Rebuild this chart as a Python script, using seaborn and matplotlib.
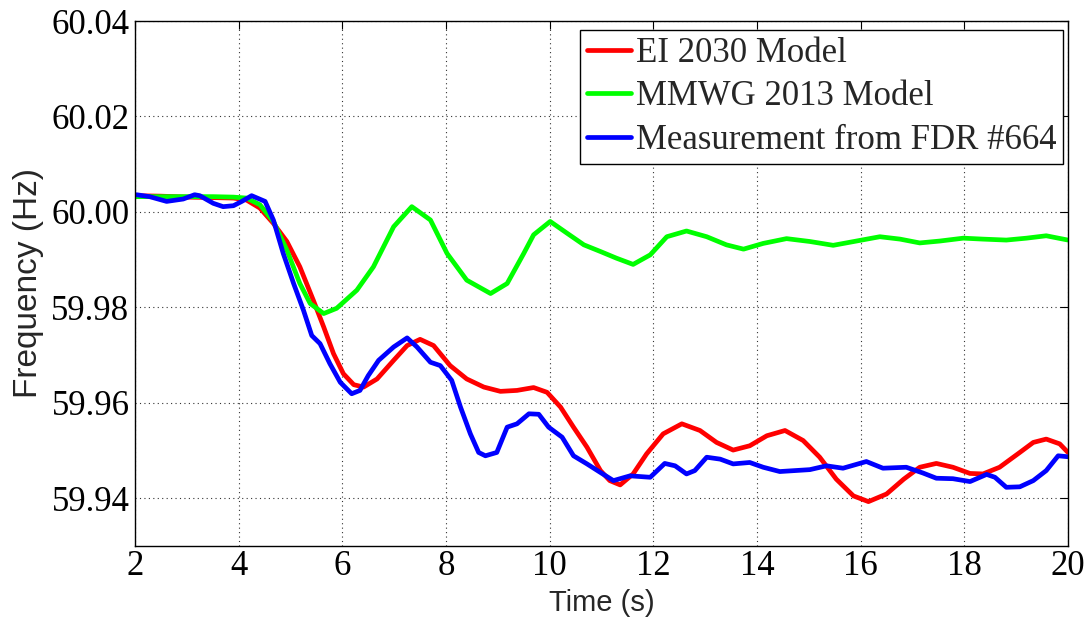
import numpy as np
import pandas as pd
import matplotlib
matplotlib.use("Agg")
import matplotlib.pyplot as plt
import seaborn as sns

# ---- data ----
ei_t = [2.0, 2.5, 3.0, 3.5, 3.9, 4.15, 4.41, 4.67, 4.93, 5.18, 5.44, 5.64, 5.83, 6.02, 6.22, 6.41,
        6.67, 6.99, 7.25, 7.5, 7.76, 8.08, 8.4, 8.73, 9.05, 9.37, 9.69, 9.95, 10.21, 10.46, 10.72,
        10.98, 11.16, 11.36, 11.61, 11.87, 12.19, 12.55, 12.9, 13.22, 13.54, 13.86, 14.19, 14.54,
        14.89, 15.21, 15.53, 15.86, 16.15, 16.5, 16.83, 17.14, 17.46, 17.78, 18.11, 18.36, 18.68,
        19.07, 19.33, 19.58, 19.84, 20.0]
ei_f = [60.0034, 60.0033, 60.0031, 60.0030, 60.0029, 60.0025, 60.0008, 59.9976, 59.9938, 59.9885,
        59.9815, 59.9759, 59.9703, 59.9661, 59.9638, 59.9633, 59.9650, 59.9689, 59.9720, 59.9733,
        59.9720, 59.9678, 59.9650, 59.9633, 59.9624, 59.9626, 59.9632, 59.9622, 59.9591, 59.9549,
        59.9507, 59.9458, 59.9437, 59.9428, 59.9451, 59.9493, 59.9535, 59.9556, 59.9542, 59.9517,
        59.9501, 59.9510, 59.9531, 59.9542, 59.9521, 59.9486, 59.9440, 59.9405, 59.9393, 59.9409,
        59.9440, 59.9465, 59.9473, 59.9465, 59.9452, 59.9451, 59.9465, 59.9496, 59.9517, 59.9524,
        59.9514, 59.9496]

mmwg_t = [2.0, 2.5, 3.0, 3.5, 3.9, 4.15, 4.41, 4.67, 4.93, 5.18, 5.38, 5.64, 5.89, 6.28, 6.6,
          6.99, 7.34, 7.7, 8.02, 8.4, 8.86, 9.18, 9.5, 9.69, 10.01, 10.34, 10.66, 10.98, 11.29,
          11.61, 11.94, 12.26, 12.64, 13.03, 13.41, 13.74, 14.12, 14.57, 15.02, 15.47, 15.92,
          16.37, 16.76, 17.14, 17.53, 17.98, 18.36, 18.81, 19.2, 19.58, 20.0]
mmwg_f = [60.0032, 60.0032, 60.0032, 60.0032, 60.0031, 60.0029, 60.0015, 59.9980, 59.9920,
          59.9850, 59.9808, 59.9787, 59.9798, 59.9836, 59.9885, 59.9969, 60.0011, 59.9983,
          59.9913, 59.9857, 59.9829, 59.9850, 59.9913, 59.9952, 59.9980, 59.9955, 59.9931,
          59.9917, 59.9903, 59.9890, 59.9910, 59.9948, 59.9960, 59.9948, 59.9931, 59.9922,
          59.9934, 59.9944, 59.9938, 59.9930, 59.9939, 59.9948, 59.9943, 59.9935, 59.9939,
          59.9945, 59.9943, 59.9941, 59.9945, 59.9950, 59.9941]

fdr_t = [2.03, 2.28, 2.61, 2.93, 3.15, 3.25, 3.51, 3.7, 3.9, 4.06, 4.25, 4.51, 4.67, 4.86, 5.06,
         5.25, 5.41, 5.57, 5.76, 5.96, 6.18, 6.34, 6.5, 6.7, 6.99, 7.25, 7.44, 7.7, 7.89, 8.11,
         8.28, 8.47, 8.63, 8.76, 8.98, 9.18, 9.37, 9.6, 9.79, 9.98, 10.24, 10.46, 10.72, 10.98,
         11.23, 11.55, 11.94, 12.22, 12.42, 12.64, 12.8, 13.03, 13.29, 13.54, 13.86, 14.12, 14.44,
         15.02, 15.34, 15.66, 16.11, 16.43, 16.88, 17.2, 17.46, 17.78, 18.11, 18.43, 18.59, 18.81,
         19.07, 19.33, 19.58, 19.81, 20.0]
fdr_f = [60.0036, 60.0032, 60.0022, 60.0027, 60.0036, 60.0034, 60.0018, 60.0011, 60.0013, 60.0022,
         60.0034, 60.0022, 59.9983, 59.9913, 59.9850, 59.9794, 59.9741, 59.9724, 59.9682, 59.9643,
         59.9619, 59.9626, 59.9657, 59.9689, 59.9717, 59.9736, 59.9717, 59.9685, 59.9678, 59.9647,
         59.9591, 59.9535, 59.9496, 59.9489, 59.9496, 59.9549, 59.9556, 59.9577, 59.9576, 59.9549,
         59.9528, 59.9489, 59.9472, 59.9454, 59.9437, 59.9447, 59.9444, 59.9473, 59.9468, 59.9451,
         59.9458, 59.9486, 59.9482, 59.9472, 59.9475, 59.9465, 59.9456, 59.9460, 59.9468, 59.9463,
         59.9477, 59.9463, 59.9465, 59.9453, 59.9442, 59.9441, 59.9435, 59.9450, 59.9444, 59.9423,
         59.9424, 59.9437, 59.9458, 59.9489, 59.9487]

labels = ["EI 2030 Model", "MMWG 2013 Model", "Measurement from FDR #664"]
colors = ["#ff0000", "#00ff00", "#0000ff"]
x_ticks = [2, 4, 6, 8, 10, 12, 14, 16, 18, 20]
y_ticks = [59.94, 59.96, 59.98, 60.00, 60.02, 60.04]

df = pd.concat([
    pd.DataFrame({"t": ei_t, "f": ei_f, "series": labels[0]}),
    pd.DataFrame({"t": mmwg_t, "f": mmwg_f, "series": labels[1]}),
    pd.DataFrame({"t": fdr_t, "f": fdr_f, "series": labels[2]}),
], ignore_index=True)

sns.set_style("white")
plt.rcParams["font.family"] = ["Liberation Serif", "DejaVu Serif"]

W, H = 1091, 623
fig = plt.figure(figsize=(W / 100, H / 100), dpi=100)
ax = fig.add_axes([135 / W, 1 - 546 / H, (1068 - 135) / W, (546 - 21) / H])

sns.lineplot(data=df, x="t", y="f", hue="series", hue_order=labels,
             palette=dict(zip(labels, colors)), estimator=None, sort=True,
             linewidth=3.4, ax=ax)
for ln in ax.get_lines():
    ln.set_solid_joinstyle("round")
    ln.set_solid_capstyle("round")

ax.set_xlim(2, 20)
ax.set_ylim(59.93, 60.04)
ax.set_xticks(x_ticks)
ax.set_xticklabels([str(v) for v in x_ticks])
ax.set_yticks(y_ticks)
ax.set_yticklabels([f"{v:.2f}" for v in y_ticks])
ax.tick_params(direction="in", length=6, width=0.8, labelsize=25, top=True, right=True,
               colors="black")
ax.tick_params(axis="x", pad=3)
ax.tick_params(axis="y", pad=4)
ax.grid(True, linestyle=(0, (1, 3)), color="#333333", linewidth=0.8)
for s in ax.spines.values():
    s.set_color("black")
    s.set_linewidth(1.0)

ax.set_xlabel("Time (s)", fontsize=21, family=["Liberation Sans", "DejaVu Sans"], labelpad=4)
ax.set_ylabel("Frequency (Hz)", fontsize=24, family=["Liberation Sans", "DejaVu Sans"], labelpad=5)

leg = ax.legend(loc="upper right", bbox_to_anchor=(1063 / W, 1 - 30 / H),
                bbox_transform=fig.transFigure, borderaxespad=0,
                fontsize=25, frameon=True, fancybox=False,
                handlelength=1.27, handletextpad=0.12, borderpad=0.2, labelspacing=0.3)
leg.get_frame().set_edgecolor("black")
leg.get_frame().set_linewidth(1.0)
leg.get_frame().set_alpha(1)
for h in leg.get_lines():
    h.set_linewidth(3.4)

fig.savefig("out.png", dpi=100)
